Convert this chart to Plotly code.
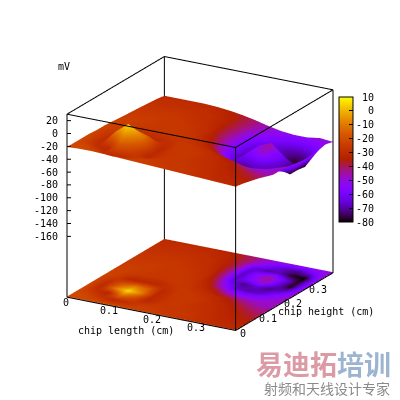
import math
import numpy as np
import plotly.graph_objects as go

# chip position in cm, same for both directions
x_cm = [0, .03, .06, .09, .12, .15, .18, .21, .24, .27, .30, .33, .36, .39]
y_cm = [0, .03, .06, .09, .12, .15, .18, .21, .24, .27, .30, .33, .36, .39]

# mV, one row per y_cm value
mv = [
    [-21, -20, -20, -21, -22, -23, -24, -25, -26, -27, -28, -29, -30, -31],
    [-21, -22, -27, -31, -29, -25, -25, -26, -26, -27, -29, -31, -32, -33],
    [-21, -28, -33, -12, -20, -32, -27, -26, -27, -28, -30, -32, -34, -36],
    [-21, -31, -10, 6, -9, -31, -27, -26, -27, -29, -31, -34, -37, -39],
    [-22, -29, -18, -10, -16, -32, -26, -26, -27, -30, -33, -37, -41, -43],
    [-22, -25, -32, -32, -32, -28, -26, -27, -29, -33, -38, -44, -47, -47],
    [-23, -24, -26, -27, -27, -26, -27, -30, -36, -48, -54, -52, -49, -47],
    [-24, -24, -25, -26, -26, -26, -28, -34, -50, -66, -70, -66, -54, -48],
    [-25, -25, -25, -26, -26, -27, -29, -40, -62, -72, -66, -72, -66, -50],
    [-26, -26, -26, -26, -27, -28, -31, -44, -68, -56, -45, -64, -78, -52],
    [-27, -27, -27, -27, -28, -29, -33, -44, -68, -52, -44, -62, -78, -52],
    [-28, -28, -28, -28, -29, -30, -34, -42, -64, -70, -68, -78, -80, -51],
    [-29, -29, -29, -30, -30, -32, -35, -41, -50, -60, -68, -70, -62, -48],
    [-31, -31, -31, -31, -32, -34, -37, -41, -46, -50, -52, -52, -49, -51],
]

z_ticks = [20, 0, -20, -40, -60, -80, -100, -120, -140, -160]
xy_ticks = [0, 0.1, 0.2, 0.3]
cb_ticks = [10, 0, -10, -20, -30, -40, -50, -60, -70, -80]

x_max = 0.39
z_floor = -254.6
z_top = 30
font = "DejaVu Sans Mono"


# the page body has an 8px margin, so convert window pixels to paper fractions
def px(v):
    return (v - 8) / 400


def py(v):
    return 1 - (v - 8) / 400


# gnuplot's default pm3d palette (rgbformulae 7,5,15)
palette = []
for k in range(41):
    t = k / 40
    r = math.sqrt(t)
    g = t ** 3
    b = max(math.sin(2 * math.pi * t), 0)
    palette.append([t, f"rgb({r * 255:.0f},{g * 255:.0f},{b * 255:.0f})"])

fig = go.Figure()

flat = dict(ambient=1, diffuse=0, specular=0, fresnel=0, roughness=1)

# the measured surface
fig.add_trace(go.Surface(
    x=x_cm, y=y_cm, z=mv,
    colorscale=palette, cmin=-80, cmax=10,
    lighting=flat, hoverinfo="skip",
    colorbar=dict(
        x=px(339), xanchor="left", xpad=0,
        y=py(159.5), yanchor="middle", ypad=0,
        thickness=14, thicknessmode="pixels",
        len=125, lenmode="pixels",
        outlinecolor="black", outlinewidth=1,
        tickvals=cb_ticks, ticktext=[str(v).rjust(3, "\u00a0") for v in cb_ticks],
        ticks="inside", ticklen=4, tickcolor="black",
        tickfont=dict(family=font, size=10, color="black"),
    ),
))

# same values as a map on the base plane
fig.add_trace(go.Surface(
    x=x_cm, y=y_cm, z=np.full((len(y_cm), len(x_cm)), z_floor + 1),
    surfacecolor=mv,
    colorscale=palette, cmin=-80, cmax=10, showscale=False,
    lighting=flat, hoverinfo="skip",
))

# all 12 edges of the box
bx = [0, x_max, x_max, 0, 0, 0, x_max, x_max, 0, 0, None, x_max, x_max, None, x_max, x_max, None, 0, 0]
by = [0, 0, x_max, x_max, 0, 0, 0, x_max, x_max, 0, None, 0, 0, None, x_max, x_max, None, x_max, x_max]
bz = [z_floor, z_floor, z_floor, z_floor, z_floor, z_top, z_top, z_top, z_top, z_top,
      None, z_floor, z_top, None, z_floor, z_top, None, z_floor, z_top]

# short z ticks pointing into the box, along the screen's horizontal
for v in z_ticks:
    bx += [None, 0, 0.0069]
    by += [None, 0, 0.004]
    bz += [None, v, v]

fig.add_trace(go.Scatter3d(
    x=bx, y=by, z=bz, mode="lines",
    line=dict(color="black", width=2), hoverinfo="skip", showlegend=False,
))

notes = []
for v in xy_ticks:
    notes.append(dict(x=v, y=0, z=z_floor, text=str(v), yshift=-5, xshift=-1))
    notes.append(dict(x=x_max, y=v, z=z_floor, text=str(v), yshift=-3, xshift=7))
for v in z_ticks:
    notes.append(dict(x=0, y=0, z=v, text=str(v), xanchor="right", xshift=-7))
for n in notes:
    n.update(showarrow=False, font=dict(family=font, size=10, color="black"))

axis = dict(
    showbackground=False, showgrid=False, zeroline=False, showspikes=False,
    showline=False, showticklabels=False, title="", ticks="",
)

fig.update_layout(
    width=400, height=400,
    margin=dict(l=0, r=0, t=0, b=0),
    paper_bgcolor="white",
    showlegend=False,
    scene=dict(
        domain=dict(x=[0, 0.96], y=[0.0725, 1]),
        aspectmode="manual", aspectratio=dict(x=1.055, y=1.055, z=1.055),
        camera=dict(
            projection=dict(type="orthographic"),
            up=dict(x=0, y=0, z=1),
            center=dict(x=0, y=0, z=0),
            eye=dict(x=0.47 * 3, y=-0.814 * 3, z=0.342 * 3),
        ),
        # ranges pad the box a touch so its edges aren't clipped away
        xaxis=dict(axis, range=[-0.001, x_max + 0.001], tickvals=xy_ticks),
        yaxis=dict(axis, range=[-0.001, x_max + 0.001], tickvals=xy_ticks),
        zaxis=dict(axis, range=[z_floor - 0.7, z_top + 0.7], tickvals=z_ticks),
        annotations=notes,
    ),
    annotations=[
        dict(x=px(64), y=py(67), text="mV"),
        dict(x=px(126), y=py(330), text="chip length (cm)"),
        dict(x=px(326), y=py(311), text="chip height (cm)"),
    ],
)
for a in fig.layout.annotations:
    a.update(xref="paper", yref="paper", showarrow=False, xanchor="center", yanchor="middle",
             font=dict(family=font, size=10, color="black"))

# site watermark, bottom right
cjk = "Noto Sans CJK SC"
fig.add_annotation(x=px(296), y=py(363), xref="paper", yref="paper", showarrow=False,
                   xanchor="center", yanchor="middle",
                   text="<b>易迪拓</b>", font=dict(family=cjk, size=27, color="#dc9aa5"))
fig.add_annotation(x=px(364), y=py(363), xref="paper", yref="paper", showarrow=False,
                   xanchor="center", yanchor="middle",
                   text="<b>培训</b>", font=dict(family=cjk, size=27, color="#9db4d0"))
fig.add_annotation(x=px(327), y=py(388), xref="paper", yref="paper", showarrow=False,
                   xanchor="center", yanchor="middle",
                   text="射频和天线设计专家", font=dict(family=cjk, size=14, color="#8a8a8a"))

fig.write_html("out.html")
